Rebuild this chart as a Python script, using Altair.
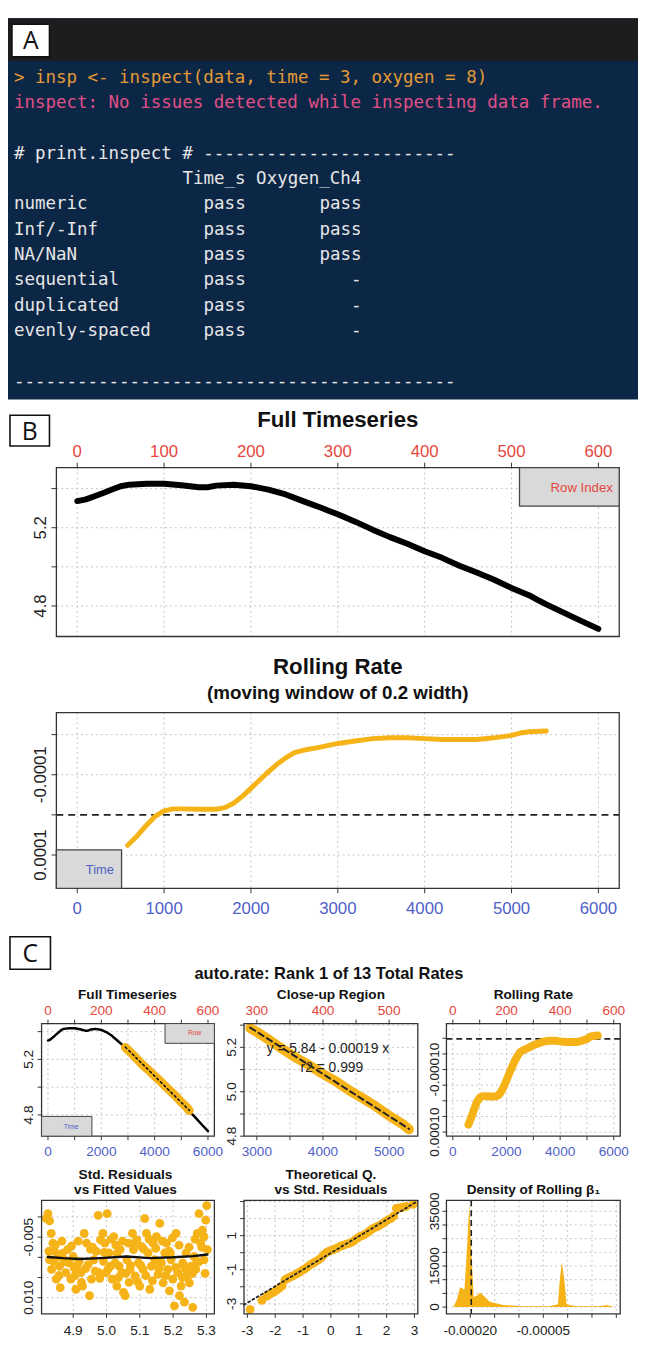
import altair as alt
import pandas as pd

OFF = 8
W, H = 638, 1337
SANS = "Liberation Sans"
MONO = "DejaVu Sans Mono"
ORANGE = "#f6b318"
RED = "#e5473d"
BLUE = "#4f60c8"
INK = "#222222"
GRIDC = "#c4c4c4"
FRAMEC = "#333333"

# ---------------- Panel A : console output ----------------
cmd_line = "> insp <- inspect(data, time = 3, oxygen = 8)"
msg_line = "inspect: No issues detected while inspecting data frame."
hdr_line = "# print.inspect # " + "-" * 24
col_header = "Time_s Oxygen_Ch4"
check_names = ["numeric", "Inf/-Inf", "NA/NaN", "sequential", "duplicated", "evenly-spaced"]
time_result = ["pass", "pass", "pass", "pass", "pass", "pass"]
oxygen_result = ["pass", "pass", "pass", "-", "-", "-"]
footer_line = "-" * 42

# ---------------- oxygen timeseries (row index, oxygen) ----------------
row_index = [0, 10, 20, 30, 40, 50, 60, 80, 100, 120,
             140, 150, 160, 180, 200, 220, 240, 260, 280, 290,
             300, 320, 340, 360, 380, 400, 420, 440, 460, 480,
             500, 520, 530, 540, 560, 580, 600]
oxygen = [5.336, 5.345, 5.361, 5.378, 5.395, 5.412, 5.420, 5.425, 5.425, 5.417,
          5.407, 5.407, 5.415, 5.420, 5.412, 5.395, 5.370, 5.336, 5.303, 5.286,
          5.269, 5.231, 5.190, 5.152, 5.118, 5.080, 5.046, 5.006, 4.971, 4.934,
          4.892, 4.855, 4.831, 4.808, 4.766, 4.724, 4.683]
seconds_per_row = 10

# ---------------- rolling rate ----------------
roll_time = [580, 700, 800, 900, 1000, 1100, 1200, 1400, 1600, 1700,
             1800, 1900, 2000, 2100, 2200, 2300, 2400, 2500, 2600, 2800,
             3000, 3200, 3400, 3600, 3800, 4000, 4200, 4400, 4600, 4800,
             5000, 5100, 5200, 5400]
roll_rate = [7.6e-5, 5.0e-5, 2.5e-5, 0.3e-5, -1.0e-5, -1.5e-5, -1.5e-5, -1.4e-5, -1.4e-5, -1.8e-5,
             -2.9e-5, -4.6e-5, -6.6e-5, -8.7e-5, -10.7e-5, -12.6e-5, -14.2e-5, -15.5e-5, -16.1e-5, -16.9e-5,
             -17.8e-5, -18.4e-5, -19.0e-5, -19.2e-5, -19.2e-5, -19.0e-5, -18.8e-5, -18.8e-5, -18.8e-5, -19.2e-5,
             -19.8e-5, -20.4e-5, -20.7e-5, -20.9e-5]

# ---------------- auto.rate result ----------------
fit_intercept = 5.84
fit_slope = -0.00019
fit_r2 = 0.999
rank1_rate = -0.000198
region_rows = [290, 530]

# ---------------- residuals vs fitted ----------------
fitted = [4.824, 4.829, 4.819, 4.834, 4.839, 4.827, 4.829, 4.844, 4.854, 4.859,
          4.849, 4.861, 4.873, 4.878, 4.883, 4.888, 4.893, 4.900, 4.903, 4.908,
          4.918, 4.923, 4.933, 4.928, 4.940, 4.945, 4.949, 4.955, 4.962, 4.969,
          4.975, 4.977, 4.982, 4.989, 4.995, 4.999, 5.002, 5.007, 5.012, 5.017,
          5.022, 5.026, 5.031, 5.038, 5.041, 5.046, 5.051, 5.056, 5.061, 5.066,
          5.071, 5.078, 5.081, 5.086, 5.091, 5.096, 5.100, 5.105, 5.110, 5.115,
          5.120, 5.125, 5.130, 5.135, 5.140, 5.145, 5.150, 5.155, 5.160, 5.165,
          5.170, 5.175, 5.180, 5.184, 5.189, 5.194, 5.199, 5.204, 5.209, 5.214,
          5.219, 5.224, 5.229, 5.234, 5.239, 5.244, 5.249, 5.254, 5.259, 5.263,
          5.268, 5.273, 5.278, 5.283, 5.288, 5.293, 5.298, 5.301, 5.293, 5.303,
          4.842, 4.868, 4.912, 4.952, 4.991, 5.032, 5.072, 5.112, 5.152, 5.192,
          5.232, 5.272,
          4.835, 4.846, 4.857, 4.866, 4.880, 4.895, 4.905, 4.915, 4.925, 4.937,
          4.958, 4.966, 4.980, 4.993, 5.004, 5.014, 5.028, 5.036, 5.048, 5.058,
          5.068, 5.083, 5.093, 5.103, 5.118, 5.128, 5.138, 5.148, 5.158, 5.168,
          5.178, 5.188, 5.198, 5.208, 5.218, 5.228, 5.238, 5.248, 5.258, 5.266,
          5.276, 5.286, 5.296]
std_resid = [-0.0108, -0.0090, -0.0096, -0.0059, -0.0035, -0.0015, 0.0006, -0.0015, -0.0002, 0.0022,
             0.0054, 0.0075, 0.0006, 0.0038, -0.0019, 0.0014, 0.0054, -0.0002, 0.0026, 0.0079,
             0.0010, 0.0038, -0.0059, 0.0071, -0.0035, 0.0018, 0.0095, 0.0054, 0.0006, -0.0015,
             -0.0104, 0.0038, -0.0043, -0.0059, -0.0035, 0.0038, -0.0108, -0.0011, 0.0022, 0.0054,
             -0.0051, 0.0014, 0.0071, 0.0022, -0.0019, 0.0038, 0.0087, 0.0095, 0.0006, -0.0035,
             0.0030, -0.0059, -0.0019, 0.0046, -0.0043, 0.0014, 0.0071, -0.0027, 0.0030, -0.0096,
             -0.0059, -0.0011, 0.0079, 0.0022, -0.0035, 0.0006, -0.0051, 0.0042, -0.0084, 0.0014,
             0.0063, -0.0011, -0.0035, 0.0030, 0.0083, 0.0006, 0.0054, 0.0120, -0.0059, 0.0038,
             0.0095, 0.0071, 0.0014, 0.0111, -0.0011, 0.0046, 0.0063, 0.0022, 0.0124, -0.0002,
             0.0030, -0.0059, -0.0108, -0.0035, -0.0067, -0.0051, -0.0092, -0.0128, 0.0006, -0.0019,
             0.0010, -0.0010, 0.0020, -0.0020, 0.0010, -0.0010, 0.0020, -0.0020, 0.0010, -0.0010,
             0.0020, 0.0010,
             0.0030, -0.0030, 0.0045, -0.0040, 0.0012, -0.0028, 0.0045, -0.0040, 0.0062, 0.0028,
             -0.0025, 0.0034, 0.0052, -0.0012, 0.0030, -0.0045, -0.0030, 0.0050, -0.0040, 0.0040,
             0.0062, -0.0035, 0.0060, 0.0020, 0.0045, -0.0045, 0.0058, -0.0022, 0.0028, -0.0040,
             0.0045, -0.0015, -0.0048, 0.0025, -0.0030, 0.0050, 0.0030, -0.0025, 0.0040, -0.0045,
             0.0012, -0.0025, 0.0040]
lowess_fit = [4.824, 4.870, 4.920, 4.980, 5.060, 5.130, 5.200, 5.260, 5.303]
lowess_res = [-0.0001, 0.0002, 0.0004, 0.0002, -0.0002, 0.0002, 0.0000, -0.0003, -0.0007]

# ---------------- QQ plot ----------------
qq_theo = [-2.90, -2.48, -2.30, -2.20, -2.05, -1.95, -1.85, -1.75, -1.65, -1.55,
           -1.45, -1.35, -1.25, -1.15, -1.05, -0.95, -0.85, -0.75, -0.65, -0.55,
           -0.45, -0.35, -0.25, -0.15, -0.05, 0.05, 0.15, 0.25, 0.35, 0.45,
           0.55, 0.65, 0.75, 0.85, 0.95, 1.05, 1.15, 1.25, 1.35, 1.45,
           1.55, 1.65, 1.75, 1.85, 1.95, 2.05, 2.15, 2.25, 2.35, 2.45,
           2.55, 2.70, 2.95]
qq_std = [-3.32, -2.80, -2.55, -2.45, -2.32, -2.20, -2.08, -1.95, -1.60, -1.50,
          -1.42, -1.35, -1.26, -1.17, -1.05, -0.97, -0.85, -0.72, -0.62, -0.52,
          -0.42, -0.30, -0.12, 0.02, 0.10, 0.15, 0.22, 0.30, 0.38, 0.44,
          0.50, 0.55, 0.62, 0.72, 0.85, 0.95, 1.02, 1.10, 1.22, 1.35,
          1.45, 1.52, 1.60, 1.70, 1.82, 1.92, 2.00, 2.15, 2.60, 2.62,
          2.65, 2.72, 2.84]
qq_line_x = [-3.12, 3.12]
qq_line_y = [-3.06, 3.03]

# ---------------- density of rolling beta1 ----------------
dens_x = [-0.000236, -0.000233, -0.000227, -0.000221, -0.000217, -0.000212, -0.000207, -0.000202, -0.000199,
          -0.000197, -0.000193, -0.000186, -0.000180, -0.000173, -0.000160, -0.000132, -0.000091, -0.000037,
          -0.000020, -0.000016, -0.000012, -0.000007, -0.000002, 0.000017, 0.000064, 0.000081, 0.000095]
dens_y = [0, 600, 3000, 7200, 6900, 6300, 21000, 37700, 25000,
          17300, 3600, 4250, 5200, 4250, 1950, 750, 270, 270,
          1050, 10200, 16500, 10200, 1050, 270, 270, 750, 0]

# =====================================================================
ONE = pd.DataFrame({"k": [0]})
layers = []


def px(v):
    return v - OFF


def deco_rect(x0, x1, y0, y1, fill=None, stroke=None, sw=1.0):
    kw = {}
    if fill is None:
        kw["fill"] = "#ffffff"
        kw["fillOpacity"] = 0
    else:
        kw["fill"] = fill
    if stroke:
        kw["stroke"] = stroke
        kw["strokeWidth"] = sw
    layers.append(alt.Chart(ONE).mark_rect(**kw).encode(
        x=alt.value(px(x0)), x2=alt.value(px(x1)), y=alt.value(px(y0)), y2=alt.value(px(y1))))


def label(s, x, y, size, color=INK, bold=False, font=SANS, angle=None, align="center"):
    kw = dict(text=s, fontSize=size, color=color, font=font, align=align, baseline="middle")
    if bold:
        kw["fontWeight"] = "bold"
    if angle is not None:
        kw["angle"] = angle
    layers.append(alt.Chart(ONE).mark_text(**kw).encode(x=alt.value(px(x)), y=alt.value(px(y))))


class Panel:
    def __init__(self, x0, x1, y0, y1, xdom, ydom, yrev=False):
        self.x0, self.x1, self.y0, self.y1 = x0, x1, y0, y1
        self.xs = alt.Scale(domain=list(xdom), range=[px(x0), px(x1)], nice=False, zero=False)
        yr = [px(y0), px(y1)] if yrev else [px(y1), px(y0)]
        self.ys = alt.Scale(domain=list(ydom), range=yr, nice=False, zero=False)

    def X(self, f):
        return alt.X(f + ":Q", scale=self.xs, axis=None)

    def Y(self, f):
        return alt.Y(f + ":Q", scale=self.ys, axis=None)

    def vgrid(self, vals, color=GRIDC, dash=(2, 3), width=1.0):
        df = pd.DataFrame({"v": vals})
        layers.append(alt.Chart(df).mark_rule(color=color, strokeDash=list(dash), strokeWidth=width).encode(
            x=self.X("v"), y=alt.value(px(self.y0)), y2=alt.value(px(self.y1))))

    def hgrid(self, vals, color=GRIDC, dash=(2, 3), width=1.0):
        df = pd.DataFrame({"v": vals})
        layers.append(alt.Chart(df).mark_rule(color=color, strokeDash=list(dash), strokeWidth=width).encode(
            y=self.Y("v"), x=alt.value(px(self.x0)), x2=alt.value(px(self.x1))))

    def frame(self):
        deco_rect(self.x0, self.x1, self.y0, self.y1, stroke=FRAMEC, sw=1.3)

    def xticks(self, vals, side, ln):
        yb = self.y0 if side == "top" else self.y1
        ye = yb - ln if side == "top" else yb + ln
        df = pd.DataFrame({"v": vals})
        layers.append(alt.Chart(df).mark_rule(color=FRAMEC, strokeWidth=1).encode(
            x=self.X("v"), y=alt.value(px(yb)), y2=alt.value(px(ye))))

    def yticks(self, vals, ln):
        df = pd.DataFrame({"v": vals})
        layers.append(alt.Chart(df).mark_rule(color=FRAMEC, strokeWidth=1).encode(
            y=self.Y("v"), x=alt.value(px(self.x0 - ln)), x2=alt.value(px(self.x0))))

    def xlabels(self, vals, texts, y, size, color=INK):
        df = pd.DataFrame({"v": vals, "t": texts})
        layers.append(alt.Chart(df).mark_text(fontSize=size, color=color, font=SANS, baseline="middle",
                                              align="center").encode(
            x=self.X("v"), y=alt.value(px(y)), text="t:N"))

    def ylabels(self, vals, texts, x, size, color=INK):
        df = pd.DataFrame({"v": vals, "t": texts})
        layers.append(alt.Chart(df).mark_text(fontSize=size, color=color, font=SANS, baseline="middle",
                                              align="center", angle=270).encode(
            y=self.Y("v"), x=alt.value(px(x)), text="t:N"))

    def line(self, xs, ys, color, width, dash=None):
        df = pd.DataFrame({"x": xs, "y": ys, "o": list(range(len(xs)))})
        kw = dict(color=color, strokeWidth=width, strokeCap="round", strokeJoin="round")
        if dash:
            kw["strokeDash"] = list(dash)
        layers.append(alt.Chart(df).mark_line(**kw).encode(x=self.X("x"), y=self.Y("y"), order="o:Q"))

    def points(self, xs, ys, color, size):
        df = pd.DataFrame({"x": xs, "y": ys})
        layers.append(alt.Chart(df).mark_circle(color=color, size=size, opacity=1).encode(
            x=self.X("x"), y=self.Y("y")))

    def area(self, xs, ys, color):
        df = pd.DataFrame({"x": xs, "y": ys, "b": [0] * len(xs)})
        layers.append(alt.Chart(df).mark_area(color=color, opacity=1).encode(
            x=self.X("x"), y=self.Y("y"), y2="b:Q"))

    def hline(self, v, color, dash, width):
        df = pd.DataFrame({"v": [v]})
        layers.append(alt.Chart(df).mark_rule(color=color, strokeDash=list(dash), strokeWidth=width).encode(
            y=self.Y("v"), x=alt.value(px(self.x0)), x2=alt.value(px(self.x1))))

    def vline(self, v, color, dash, width):
        df = pd.DataFrame({"v": [v]})
        layers.append(alt.Chart(df).mark_rule(color=color, strokeDash=list(dash), strokeWidth=width).encode(
            x=self.X("v"), y=alt.value(px(self.y0)), y2=alt.value(px(self.y1))))


def box_letter(ch, x0, x1, y0, y1):
    deco_rect(x0, x1, y0, y1, fill="#ffffff", stroke="#111111", sw=1.6)
    label(ch, (x0 + x1) / 2, (y0 + y1) / 2 + 1, 25, color="#111111", font="Open Sans")


time_s = [r * seconds_per_row for r in row_index]
reg_time = [t for t, r in zip(time_s, row_index) if region_rows[0] <= r <= region_rows[1]]
reg_oxy = [o for o, r in zip(oxygen, row_index) if region_rows[0] <= r <= region_rows[1]]
fit_t = [region_rows[0] * seconds_per_row, region_rows[1] * seconds_per_row]
fit_y = [fit_intercept + fit_slope * t for t in fit_t]

# ---------------- Panel A ----------------
deco_rect(8, 654, 10, 396, fill="#0c2746")
deco_rect(8, 654, 10, 53, fill="#1d1d1f")
box_letter("A", 12, 50, 16, 49)

tok_line, tok_col, tok_text, tok_color = [], [], [], []


def tok(l, c, t, col):
    tok_line.append(l)
    tok_col.append(c)
    tok_text.append(t)
    tok_color.append(col)


tok(0, 0, cmd_line, "#e39a35")
tok(1, 0, msg_line, "#e04f86")
tok(3, 0, hdr_line, "#e6e6e6")
tok(4, 16, col_header, "#e6e6e6")
for i, (n, a, b) in enumerate(zip(check_names, time_result, oxygen_result)):
    tok(5 + i, 0, n, "#e6e6e6")
    tok(5 + i, 18, a, "#e6e6e6")
    tok(5 + i, 33 - len(b), b, "#e6e6e6")
tok(12, 0, footer_line, "#e6e6e6")
term_df = pd.DataFrame({"l": tok_line, "c": tok_col, "t": tok_text, "col": tok_color})
layers.append(alt.Chart(term_df).mark_text(font=MONO, fontSize=17.7, align="left", baseline="middle").encode(
    x=alt.X("c:Q", scale=alt.Scale(domain=[0, 60], range=[px(14), px(14 + 60 * 10.67)], nice=False, zero=False), axis=None),
    y=alt.Y("l:Q", scale=alt.Scale(domain=[0, 12], range=[px(70), px(378)], nice=False, zero=False), axis=None),
    text="t:N", color=alt.Color("col:N", scale=None)))

# ---------------- Panel B ----------------
box_letter("B", 10, 50, 412, 443)
label("Full Timeseries", 342, 417, 22.5, color="#111111", bold=True)

bt = Panel(57, 627, 465, 636, (-240, 6240), (4.644, 5.507))
bt.vgrid(list(range(0, 6001, 1000)))
bt.hgrid([4.8, 5.0, 5.2, 5.4])
bt.line(time_s, oxygen, "#000000", 6)
bt.frame()
deco_rect(526, 627, 465, 504, fill="#d9d9d9", stroke="#444444", sw=1.3)
label("Row Index", 589, 486, 13.4, color=RED)
bt.xticks(list(range(0, 6001, 1000)), "top", 5)
bt.xlabels(list(range(0, 6001, 1000)), [str(r) for r in range(0, 601, 100)], 449, 17, RED)
bt.yticks([4.8, 5.0, 5.2, 5.4], 5)
bt.ylabels([5.2, 4.8], ["5.2", "4.8"], 41, 17)

label("Rolling Rate", 342, 667, 22.5, color="#111111", bold=True)
label("(moving window of 0.2 width)", 342, 693, 19, color="#111111", bold=True)
bb = Panel(57, 627, 713, 891, (-240, 6240), (-0.000255, 0.000183), yrev=True)
bb.vgrid(list(range(0, 6001, 1000)))
bb.hgrid([-0.0002, -0.0001, 0.0001])
bb.hline(0.0, "#222222", (7, 5), 1.6)
bb.line(roll_time, roll_rate, ORANGE, 5)
bb.frame()
deco_rect(57, 123, 852, 891, fill="#d9d9d9", stroke="#444444", sw=1.3)
label("Time", 101, 873, 13, color=BLUE)
bb.xticks(list(range(0, 6001, 1000)), "bottom", 5)
bb.xlabels(list(range(0, 6001, 1000)), [str(t) for t in range(0, 6001, 1000)], 912, 17, BLUE)
bb.yticks([-0.0002, -0.0001, 0.0, 0.0001], 5)
bb.ylabels([-0.0001, 0.0001], ["-0.0001", "0.0001"], 41, 17)

# ---------------- Panel C ----------------
box_letter("C", 10, 51, 940, 973)
label("auto.rate: Rank 1 of 13 Total Rates", 333, 978, 16.7, color="#111111", bold=True)

# C1 full timeseries
c1 = Panel(42, 217, 1028, 1142, (-240, 6240), (4.647, 5.458))
label("Full Timeseries", 129, 999, 13.8, color="#111111", bold=True)
c1.vgrid(list(range(0, 6001, 1000)))
c1.hgrid([4.8, 5.0, 5.2, 5.4])
c1.line(time_s, oxygen, "#000000", 2.5)
c1.line(reg_time, reg_oxy, ORANGE, 9)
c1.line(fit_t, fit_y, "#111111", 1.6, dash=(2, 3))
c1.frame()
deco_rect(167, 217, 1028, 1048, fill="#d9d9d9", stroke="#444444", sw=1)
label("Row", 197, 1038, 6.8, color=RED)
deco_rect(42, 93, 1122, 1142, fill="#d9d9d9", stroke="#444444", sw=1)
label("Time", 72, 1133, 6.8, color=BLUE)
c1.xticks(list(range(0, 6001, 1000)), "top", 4)
c1.xticks(list(range(0, 6001, 1000)), "bottom", 4)
c1.xlabels([0, 2000, 4000, 6000], ["0", "200", "400", "600"], 1015, 13.8, RED)
c1.xlabels([0, 2000, 4000, 6000], ["0", "2000", "4000", "6000"], 1158, 13.8, BLUE)
c1.yticks([4.8, 5.0, 5.2, 5.4], 4)
c1.ylabels([5.2, 4.8], ["5.2", "4.8"], 29, 13.8)

# C2 close-up
c2 = Panel(247, 423, 1028, 1142, (2806, 5433), (4.80, 5.307))
label("Close-up Region", 335, 999, 13.8, color="#111111", bold=True)
c2.vgrid([3000, 3500, 4000, 4500, 5000])
c2.hgrid([4.9, 5.0, 5.1, 5.2, 5.3])
c2.line(reg_time, reg_oxy, ORANGE, 10)
c2.line(fit_t, fit_y, "#222222", 2, dash=(6, 4))
c2.frame()
label("y = 5.84 - 0.00019 x", 332, 1054, 14, color=INK)
label("r2 = " + str(fit_r2), 336, 1073, 14, color=INK)
c2.xticks([3000, 3500, 4000, 4500, 5000], "top", 4)
c2.xticks([3000, 3500, 4000, 4500, 5000], "bottom", 4)
c2.xlabels([3000, 4000, 5000], ["300", "400", "500"], 1015, 13.8, RED)
c2.xlabels([3000, 4000, 5000], ["3000", "4000", "5000"], 1158, 13.8, BLUE)
c2.yticks([4.8, 4.9, 5.0, 5.1, 5.2, 5.3], 4)
c2.ylabels([5.2, 5.0, 4.8], ["5.2", "5.0", "4.8"], 235, 13.8)

# C3 rolling rate
c3 = Panel(452, 628, 1028, 1142, (-240, 6240), (-0.000247, 0.000113), yrev=True)
label("Rolling Rate", 540, 999, 13.8, color="#111111", bold=True)
c3.vgrid(list(range(0, 6001, 1000)))
c3.hgrid([-0.00015, -0.0001, -0.00005, 0.0, 0.00005, 0.0001])
c3.hline(rank1_rate, "#222222", (6, 4), 1.6)
c3.line(roll_time, roll_rate, ORANGE, 8)
c3.frame()
c3.xticks(list(range(0, 6001, 1000)), "top", 4)
c3.xticks(list(range(0, 6001, 1000)), "bottom", 4)
c3.xlabels([0, 2000, 4000, 6000], ["0", "200", "400", "600"], 1015, 13.8, RED)
c3.xlabels([0, 2000, 4000, 6000], ["0", "2000", "4000", "6000"], 1158, 13.8, BLUE)
c3.yticks([-0.0002, -0.00015, -0.0001, -0.00005, 0.0, 0.00005, 0.0001], 4)
c3.ylabels([-0.0001, 0.0001], ["-0.00010", "0.00010"], 440, 13.8)

# C4 residuals vs fitted
c4 = Panel(42, 217, 1207, 1322, (4.805, 5.324), (-0.0141, 0.014), yrev=True)
label("Std. Residuals", 127, 1181, 13.8, color="#111111", bold=True)
label("vs Fitted Values", 127, 1197, 13.8, color="#111111", bold=True)
c4.vgrid([4.9, 5.0, 5.1, 5.2, 5.3])
c4.hgrid([-0.010, -0.005, 0.0, 0.005, 0.010])
c4.points(fitted, std_resid, ORANGE, 80)
c4.line(lowess_fit, lowess_res, "#111111", 2.5)
c4.frame()
c4.xticks([4.9, 5.0, 5.1, 5.2, 5.3], "bottom", 4)
c4.xlabels([4.9, 5.0, 5.1, 5.2, 5.3], ["4.9", "5.0", "5.1", "5.2", "5.3"], 1339, 13.8)
c4.yticks([-0.010, -0.005, 0.0, 0.005, 0.010], 4)
c4.ylabels([-0.005, 0.010], ["-0.005", "0.010"], 29, 13.8)

# C5 QQ
c5 = Panel(247, 423, 1207, 1322, (-3.12, 3.12), (-3.59, 3.07))
label("Theoretical Q.", 335, 1181, 13.8, color="#111111", bold=True)
label("vs Std. Residuals", 335, 1197, 13.8, color="#111111", bold=True)
c5.vgrid([-3, -2, -1, 0, 1, 2, 3])
c5.hgrid([-3, -2, -1, 0, 1, 2, 3])
c5.points(qq_theo, qq_std, ORANGE, 80)
c5.line(qq_line_x, qq_line_y, "#222222", 1.8, dash=(2, 3))
c5.frame()
c5.xticks([-3, -2, -1, 0, 1, 2, 3], "bottom", 4)
c5.xlabels([-3, -2, -1, 0, 1, 2, 3], ["-3", "-2", "-1", "0", "1", "2", "3"], 1339, 13.8)
c5.yticks([-3, -2, -1, 0, 1, 2, 3], 4)
c5.ylabels([-3, -1, 1], ["-3", "-1", "1"], 235, 13.8)

# C6 density
c6 = Panel(452, 628, 1207, 1322, (-0.000249, 0.000108), (-2500, 39000))
label("Density of Rolling \u03b2\u2081", 540, 1197, 13.8, color="#111111", bold=True)
c6.vgrid([-0.0002, -0.00015, -0.0001, -0.00005, 0.0, 0.00005, 0.0001])
c6.hgrid([0, 5000, 10000, 15000, 20000, 25000, 30000, 35000])
c6.area(dens_x, dens_y, ORANGE)
c6.vline(rank1_rate, "#222222", (6, 4), 1.6)
c6.frame()
c6.xticks([-0.0002, -0.00015, -0.0001, -0.00005, 0.0, 0.00005, 0.0001], "bottom", 4)
c6.xlabels([-0.0002, -0.00005], ["-0.00020", "-0.00005"], 1339, 13.8)
c6.yticks([0, 5000, 10000, 15000, 20000, 25000, 30000, 35000], 4)
c6.ylabels([0, 15000, 35000], ["0", "15000", "35000"], 440, 13.8)

chart = alt.layer(*layers).resolve_scale(x="independent", y="independent").properties(
    width=W, height=H, padding=0, autosize=alt.AutoSizeParams(type="none"),
    background="#ffffff").configure_view(stroke=None)

chart.save("out.html", embed_options={"renderer": "svg", "actions": False})
